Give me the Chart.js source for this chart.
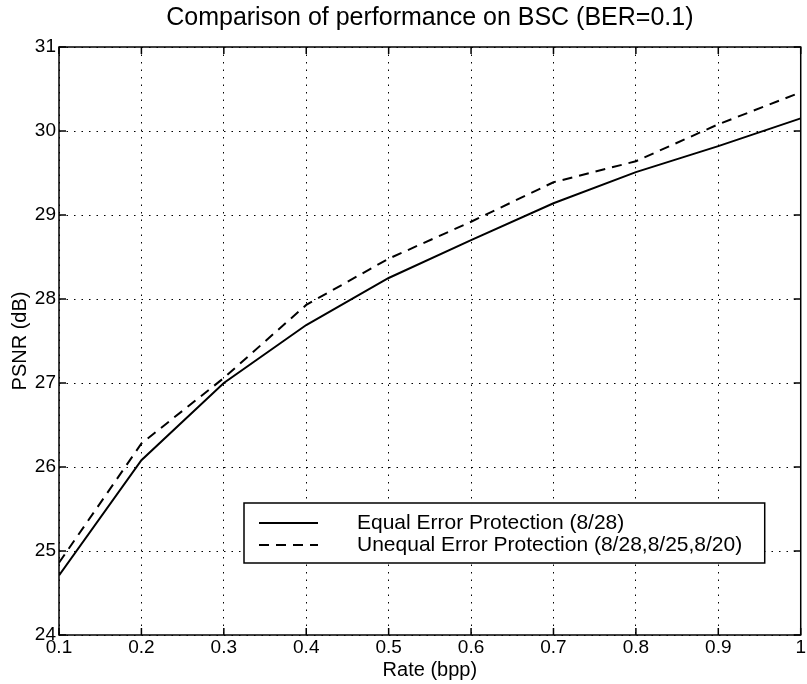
<!DOCTYPE html>
<html>
<head>
<meta charset="utf-8">
<title>Comparison of performance on BSC (BER=0.1)</title>
<script src="https://cdn.jsdelivr.net/npm/chart.js@4.4.0/dist/chart.umd.min.js"></script>
<style>
  html, body { margin: 0; padding: 0; background: #fff; }
  #wrap { width: 807px; height: 684px; }
</style>
</head>
<body>
<div id="wrap"><canvas id="chart" width="807" height="684"></canvas></div>
<script>
// values
const rates = [0.1, 0.2, 0.3, 0.4, 0.5, 0.6, 0.7, 0.8, 0.9, 1.0];
const eepPsnr = [24.71, 26.08, 27.0, 27.69, 28.25, 28.70, 29.14, 29.51, 29.82, 30.15];
const uepPsnr = [24.86, 26.28, 27.06, 27.93, 28.48, 28.92, 29.39, 29.64, 30.08, 30.46];
const xTicks = [0.1, 0.2, 0.3, 0.4, 0.5, 0.6, 0.7, 0.8, 0.9, 1];
const yTicks = [24, 25, 26, 27, 28, 29, 30, 31];
const seriesLabels = ['Equal Error Protection (8/28)', 'Unequal Error Protection (8/28,8/25,8/20)'];

const FONT = "'Liberation Sans', Arial, Helvetica, sans-serif";

// box round the axes with matlab style inward ticks
const framePlugin = {
    id: 'frame',
    afterDraw(chart) {
        const { ctx, chartArea: a, scales } = chart;
        const len = 7;
        ctx.save();
        ctx.strokeStyle = '#000';
        ctx.lineWidth = 1.5;
        ctx.strokeRect(a.left, a.top, a.right - a.left, a.bottom - a.top);
        ctx.beginPath();
        xTicks.forEach(v => {
            const x = scales.x.getPixelForValue(v);
            ctx.moveTo(x, a.bottom); ctx.lineTo(x, a.bottom - len);
            ctx.moveTo(x, a.top); ctx.lineTo(x, a.top + len);
        });
        yTicks.forEach(v => {
            const y = scales.y.getPixelForValue(v);
            ctx.moveTo(a.left, y); ctx.lineTo(a.left + len, y);
            ctx.moveTo(a.right, y); ctx.lineTo(a.right - len, y);
        });
        ctx.stroke();
        ctx.restore();
    }
};

// legend box inside the plot, lower right
const legendBoxPlugin = {
    id: 'legendBox',
    afterDatasetsDraw(chart) {
        const { ctx, chartArea: a } = chart;
        const right = a.right - 36, left = a.left + 185;
        const top = a.bottom - 132, bottom = a.bottom - 72;
        ctx.save();
        ctx.fillStyle = '#fff';
        ctx.fillRect(left, top, right - left, bottom - top);
        ctx.strokeStyle = '#000';
        ctx.lineWidth = 1.5;
        ctx.strokeRect(left, top, right - left, bottom - top);
        ctx.font = '21px ' + FONT;
        ctx.fillStyle = '#000';
        ctx.textBaseline = 'middle';
        chart.data.datasets.forEach((ds, i) => {
            const y = top + 20 + i * 22;
            ctx.lineWidth = ds.borderWidth;
            ctx.setLineDash(ds.borderDash || []);
            ctx.beginPath();
            ctx.moveTo(left + 15, y);
            ctx.lineTo(left + 74, y);
            ctx.stroke();
            ctx.setLineDash([]);
            ctx.fillText(ds.label, left + 113, y);
        });
        ctx.restore();
    }
};

new Chart(document.getElementById('chart'), {
    type: 'line',
    data: {
        datasets: [
            {
                label: seriesLabels[0],
                data: rates.map((r, i) => ({ x: r, y: eepPsnr[i] })),
                borderColor: '#000',
                borderWidth: 2,
                pointRadius: 0,
                tension: 0
            },
            {
                label: seriesLabels[1],
                data: rates.map((r, i) => ({ x: r, y: uepPsnr[i] })),
                borderColor: '#000',
                borderWidth: 2,
                borderDash: [10, 7],
                pointRadius: 0,
                tension: 0
            }
        ]
    },
    options: {
        responsive: false,
        animation: false,
        devicePixelRatio: 1,
        layout: { padding: { right: 1 } },
        plugins: {
            legend: { display: false },
            tooltip: { enabled: false },
            title: {
                display: true,
                // centre the title over the axes, not the whole canvas
                fullSize: false,
                text: 'Comparison of performance on BSC (BER=0.1)',
                color: '#000',
                font: { family: FONT, size: 25, weight: 'normal' },
                padding: { top: 3, bottom: 14 }
            }
        },
        scales: {
            x: {
                type: 'linear',
                min: 0.1,
                max: 1,
                afterBuildTicks: s => { s.ticks = xTicks.map(v => ({ value: v })); },
                afterFit: s => { s.height = 49; },
                ticks: {
                    color: '#000',
                    padding: 1,
                    maxRotation: 0,
                    autoSkip: false,
                    font: { family: FONT, size: 19 },
                    callback: v => String(Math.round(v * 10) / 10)
                },
                grid: { color: '#000', lineWidth: 1, drawTicks: false },
                border: { display: false, dash: [1.5, 6] },
                title: {
                    display: true,
                    text: 'Rate (bpp)',
                    color: '#000',
                    font: { family: FONT, size: 20 },
                    padding: { top: 0, bottom: 2 }
                }
            },
            y: {
                min: 24,
                max: 31,
                afterBuildTicks: s => { s.ticks = yTicks.map(v => ({ value: v })); },
                afterFit: s => { s.width = 59; },
                ticks: {
                    color: '#000',
                    padding: 3,
                    font: { family: FONT, size: 19 }
                },
                grid: { color: '#000', lineWidth: 1, drawTicks: false },
                border: { display: false, dash: [1.5, 6] },
                title: {
                    display: true,
                    text: 'PSNR (dB)',
                    color: '#000',
                    font: { family: FONT, size: 20 },
                    padding: { top: 8, bottom: 0 }
                }
            }
        }
    },
    plugins: [framePlugin, legendBoxPlugin]
});
</script>
</body>
</html>
